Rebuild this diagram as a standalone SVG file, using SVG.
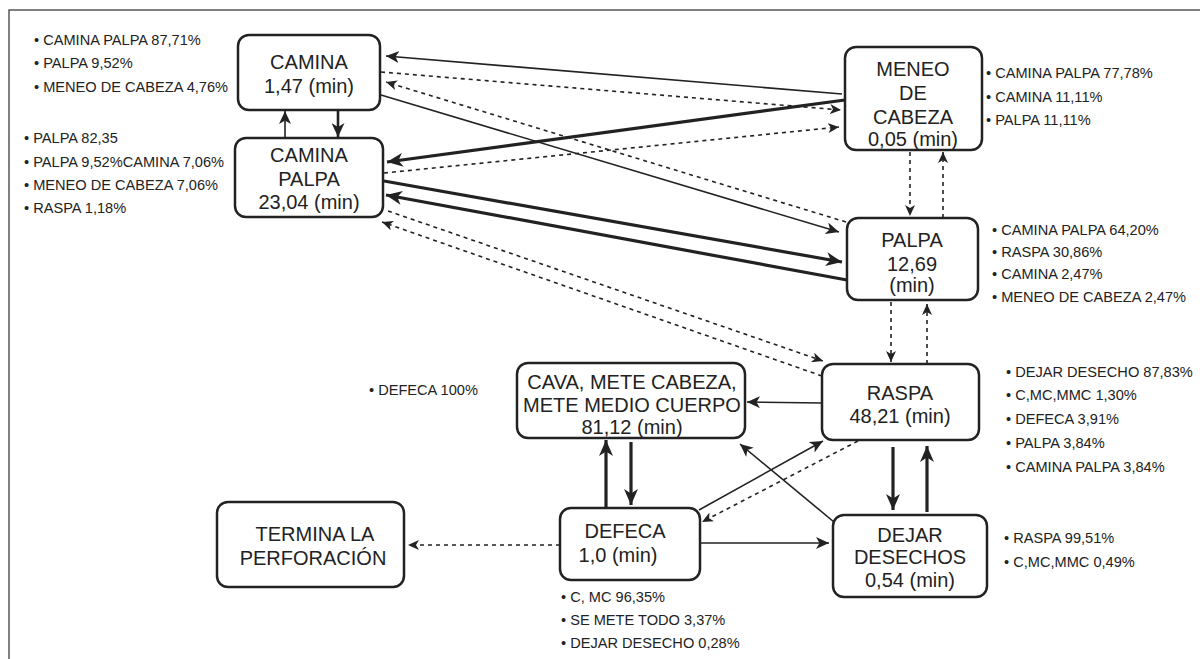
<svg xmlns="http://www.w3.org/2000/svg" width="1200" height="659" viewBox="0 0 1200 659">
<style>
.frame{stroke:#555;stroke-width:1.5;fill:none}
.box{fill:#fff;stroke:#222;stroke-width:2.5}
.nt{font-family:"Liberation Sans",Arial,sans-serif;font-size:20px;fill:#222;text-anchor:middle}
.lb{font-family:"Liberation Sans",Arial,sans-serif;font-size:14.6px;fill:#222}
.thin{stroke:#222;stroke-width:1.6;fill:none;marker-end:url(#ah)}
.med{stroke:#222;stroke-width:2.6;fill:none;marker-end:url(#ahm)}
.thick{stroke:#222;stroke-width:3.2;fill:none;marker-end:url(#ahk)}
.dash{stroke:#222;stroke-width:1.6;fill:none;stroke-dasharray:4 4;marker-end:url(#ahd)}
</style>
<defs>
<marker id="ah" markerUnits="userSpaceOnUse" markerWidth="13" markerHeight="12" refX="13" refY="6" orient="auto"><path d="M0,0 L13,6 L0,12 L3.5,6 z" fill="#222"/></marker>
<marker id="ahm" markerUnits="userSpaceOnUse" markerWidth="14" markerHeight="13" refX="14" refY="6.5" orient="auto"><path d="M0,0 L14,6.5 L0,13 L4,6.5 z" fill="#222"/></marker>
<marker id="ahk" markerUnits="userSpaceOnUse" markerWidth="16" markerHeight="14" refX="16" refY="7" orient="auto"><path d="M0,0 L16,7 L0,14 L4.5,7 z" fill="#222"/></marker>
<marker id="ahd" markerUnits="userSpaceOnUse" markerWidth="11" markerHeight="10" refX="11" refY="5" orient="auto"><path d="M0,0 L11,5 L0,10 L3,5 z" fill="#222"/></marker>
</defs>
<path class="frame" d="M9,659 L9,10 L1200,10"/>

<g id="connectors">
<line class="thin" x1="842" y1="94" x2="386" y2="56"/>
<line class="dash" x1="381" y1="72" x2="841" y2="110"/>
<line class="dash" x1="846" y1="222" x2="386" y2="82"/>
<line class="thin" x1="381" y1="95" x2="839" y2="232"/>
<line class="thick" x1="845" y1="100" x2="387" y2="162"/>
<line class="dash" x1="384" y1="173" x2="839" y2="127"/>
<line class="thick" x1="384" y1="181" x2="842" y2="262"/>
<line class="thick" x1="847" y1="280" x2="386" y2="195"/>
<line class="dash" x1="388" y1="211" x2="823" y2="361"/>
<line class="dash" x1="822" y1="376" x2="382" y2="222"/>
<line class="thin" x1="285" y1="138" x2="285" y2="111"/>
<line class="med" x1="338" y1="110" x2="338" y2="137"/>
<line class="dash" x1="910" y1="152" x2="910" y2="216"/>
<line class="dash" x1="943" y1="218" x2="943" y2="152"/>
<line class="dash" x1="891" y1="302" x2="891" y2="362"/>
<line class="dash" x1="927" y1="364" x2="927" y2="304"/>
<line class="thick" x1="893" y1="447" x2="893" y2="510"/>
<line class="thick" x1="927" y1="512" x2="927" y2="446"/>
<line class="thin" x1="822" y1="403" x2="747" y2="402"/>
<line class="thin" x1="699" y1="510" x2="823" y2="441"/>
<line class="dash" x1="858" y1="441" x2="702" y2="522"/>
<line class="thin" x1="834" y1="522" x2="740" y2="444"/>
<line class="thick" x1="631" y1="442" x2="631" y2="505"/>
<line class="thick" x1="606" y1="507" x2="606" y2="440"/>
<line class="thin" x1="700" y1="543" x2="829" y2="543"/>
<line class="dash" x1="560" y1="545" x2="408" y2="545"/>
</g>

<g id="camina">
<rect class="box" x="238" y="35" width="142" height="75" rx="11"/>
<text class="nt" x="309" y="69">CAMINA</text>
<text class="nt" x="309" y="93">1,47 (min)</text>
</g>
<g id="camina-palpa">
<rect class="box" x="235" y="138" width="148" height="79" rx="11"/>
<text class="nt" x="309" y="162">CAMINA</text>
<text class="nt" x="309" y="186">PALPA</text>
<text class="nt" x="309" y="209">23,04 (min)</text>
</g>
<g id="meneo">
<rect class="box" x="845" y="47" width="137" height="103" rx="11"/>
<text class="nt" x="913" y="76">MENEO</text>
<text class="nt" x="913" y="100">DE</text>
<text class="nt" x="913" y="124">CABEZA</text>
<text class="nt" x="913" y="146">0,05 (min)</text>
</g>
<g id="palpa">
<rect class="box" x="847" y="218" width="131" height="82" rx="11"/>
<text class="nt" x="912" y="247">PALPA</text>
<text class="nt" x="912" y="271">12,69</text>
<text class="nt" x="912" y="292">(min)</text>
</g>
<g id="raspa">
<rect class="box" x="822" y="364" width="157" height="76" rx="11"/>
<text class="nt" x="900" y="400">RASPA</text>
<text class="nt" x="900" y="423">48,21 (min)</text>
</g>
<g id="cava">
<rect class="box" x="517" y="363" width="228" height="75" rx="11"/>
<text class="nt" x="632" y="389">CAVA, METE CABEZA,</text>
<text class="nt" x="632" y="412">METE MEDIO CUERPO</text>
<text class="nt" x="632" y="434">81,12 (min)</text>
</g>
<g id="defeca">
<rect class="box" x="560" y="508" width="140" height="72" rx="11"/>
<text class="nt" x="625" y="538">DEFECA</text>
<text class="nt" x="618" y="562">1,0 (min)</text>
</g>
<g id="dejar">
<rect class="box" x="833" y="515" width="154" height="82" rx="11"/>
<text class="nt" x="910" y="542">DEJAR</text>
<text class="nt" x="910" y="564">DESECHOS</text>
<text class="nt" x="910" y="587">0,54 (min)</text>
</g>
<g id="termina">
<rect class="box" x="217" y="502" width="187" height="85" rx="11"/>
<text class="nt" x="315" y="541">TERMINA LA</text>
<text class="nt" x="313" y="565">PERFORACIÓN</text>
</g>

<g id="labels-camina">
<text class="lb" x="34" y="45">• CAMINA PALPA 87,71%</text>
<text class="lb" x="34" y="68">• PALPA 9,52%</text>
<text class="lb" x="34" y="92">• MENEO DE CABEZA 4,76%</text>
</g>
<g id="labels-camina-palpa">
<text class="lb" x="24" y="143">• PALPA 82,35</text>
<text class="lb" x="24" y="167">• PALPA 9,52%CAMINA 7,06%</text>
<text class="lb" x="24" y="190">• MENEO DE CABEZA 7,06%</text>
<text class="lb" x="24" y="213">• RASPA 1,18%</text>
</g>
<g id="labels-meneo">
<text class="lb" x="986" y="78">• CAMINA PALPA 77,78%</text>
<text class="lb" x="986" y="102">• CAMINA 11,11%</text>
<text class="lb" x="986" y="125">• PALPA 11,11%</text>
</g>
<g id="labels-palpa">
<text class="lb" x="992" y="235">• CAMINA PALPA 64,20%</text>
<text class="lb" x="992" y="257">• RASPA 30,86%</text>
<text class="lb" x="992" y="279">• CAMINA 2,47%</text>
<text class="lb" x="992" y="302">• MENEO DE CABEZA 2,47%</text>
</g>
<g id="labels-raspa">
<text class="lb" x="1006" y="377">• DEJAR DESECHO 87,83%</text>
<text class="lb" x="1006" y="400">• C,MC,MMC 1,30%</text>
<text class="lb" x="1006" y="424">• DEFECA 3,91%</text>
<text class="lb" x="1006" y="448">• PALPA 3,84%</text>
<text class="lb" x="1006" y="472">• CAMINA PALPA 3,84%</text>
</g>
<g id="labels-cava">
<text class="lb" x="369" y="395">• DEFECA 100%</text>
</g>
<g id="labels-dejar">
<text class="lb" x="1004" y="543">• RASPA 99,51%</text>
<text class="lb" x="1004" y="567">• C,MC,MMC 0,49%</text>
</g>
<g id="labels-defeca">
<text class="lb" x="561" y="602">• C, MC 96,35%</text>
<text class="lb" x="561" y="625">• SE METE TODO 3,37%</text>
<text class="lb" x="561" y="648">• DEJAR DESECHO 0,28%</text>
</g>
</svg>
